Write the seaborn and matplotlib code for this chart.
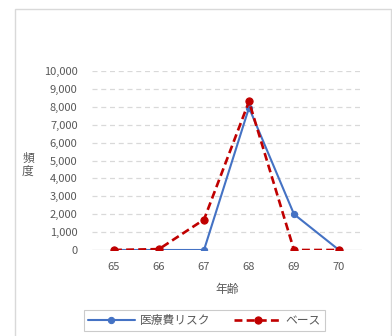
import matplotlib
matplotlib.use("Agg")
import matplotlib.pyplot as plt
import seaborn as sns
import pandas as pd
from matplotlib.patches import Rectangle

ages = [65, 66, 67, 68, 69, 70]
risk_counts = [0, 0, 0, 7950, 2000, 0]
base_counts = [0, 50, 1700, 8300, 0, 0]
series_names = ["医療費リスク", "ベース"]
y_ticks = list(range(0, 10001, 1000))

sns.set_theme(style="white")
plt.rcParams["font.family"] = ["Noto Sans CJK JP", "DejaVu Sans"]

text_grey = "#595959"
grid_grey = "#D9D9D9"
blue = "#4472C4"
red = "#C00000"

df = pd.DataFrame({
    "年齢": ages * 2,
    "頻度": risk_counts + base_counts,
    "系列": [series_names[0]] * len(ages) + [series_names[1]] * len(ages),
})

fig = plt.figure(figsize=(3.92, 3.36), dpi=100)
fig.patch.set_facecolor("white")
ax = fig.add_axes([91.5 / 392, 1 - 250 / 336, 270 / 392, 179 / 336])

# horizontal gridlines
for v in y_ticks[1:]:
    ax.axhline(v, color=grid_grey, lw=0.9, ls=(0, (4, 3)), zorder=0)
ax.axhline(0, color=grid_grey, lw=1.0, zorder=0)

sns.lineplot(data=df[df["系列"] == series_names[0]], x="年齢", y="頻度", ax=ax,
             color=blue, lw=1.5, marker="o", markersize=4.5,
             markeredgecolor=blue, label=series_names[0], zorder=3)
sns.lineplot(data=df[df["系列"] == series_names[1]], x="年齢", y="頻度", ax=ax,
             color=red, lw=1.9, ls=(0, (3, 1.6)), marker="o", markersize=5.2,
             markeredgecolor=red, label=series_names[1], zorder=4)

ax.set_xlim(64.5, 70.5)
ax.set_ylim(0, 10000)
ax.set_xticks(ages)
ax.set_xticklabels([str(a) for a in ages])
ax.set_yticks(y_ticks)
ax.set_yticklabels([f"{v:,}" for v in y_ticks])
ax.tick_params(axis="both", length=0, labelsize=8, labelcolor=text_grey)
ax.tick_params(axis="y", pad=10)
ax.tick_params(axis="x", pad=9)
for s in ax.spines.values():
    s.set_visible(False)
ax.set_xlabel("")
ax.set_ylabel("")
ax.get_legend().remove()

fig.text(227 / 392, 1 - 289 / 336, "年齢", ha="center", va="center",
         fontsize=8.5, color=text_grey)
fig.text(28 / 392, 1 - 165 / 336, "頻\n度", ha="center", va="center",
         fontsize=8.5, color=text_grey, linespacing=1.0)

handles, labels = ax.get_legend_handles_labels()
leg = fig.legend(handles, labels, loc="center",
                 bbox_to_anchor=(204.5 / 392, 1 - 320.5 / 336),
                 ncol=2, frameon=True, fancybox=False, fontsize=8.5,
                 handlelength=4.0, columnspacing=2.0, handletextpad=0.4,
                 borderpad=0.35, borderaxespad=0, labelcolor=text_grey)
leg.get_frame().set_edgecolor("#BFBFBF")
leg.get_frame().set_linewidth(0.8)

# outer chart border
fig.patches.append(Rectangle((15 / 392, -0.05), 376 / 392, 1 - 9 / 336 + 0.05,
                             transform=fig.transFigure, fill=False,
                             edgecolor=grid_grey, lw=1.0))

fig.savefig("out.png", dpi=100)
